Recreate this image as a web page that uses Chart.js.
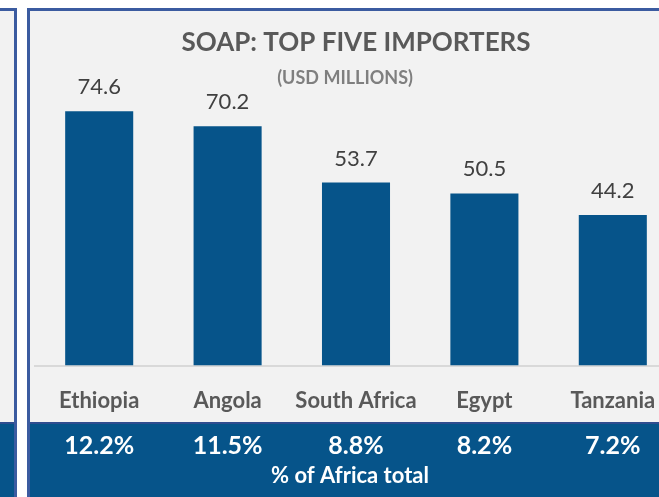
<!DOCTYPE html>
<html>
<head>
<meta charset="utf-8">
<script src="https://cdn.jsdelivr.net/npm/chart.js@4"></script>
<style>
  html, body { margin: 0; padding: 0; background: #fff; overflow: hidden; width: 659px; height: 497px; }
  .panel { position: absolute; background: #f2f2f2; border: 3px solid #3b5ba0; box-sizing: border-box; overflow: hidden; }
  .band { position: absolute; left: 0; right: 0; top: 411px; height: 120px; background: #06548a; border-top: 2px solid #2e4d8f; }
  #mychart { position: absolute; left: 0; top: 0; }
</style>
</head>
<body>
<div class="panel" style="left:-100px; top:8px; width:117px; height:520px;"><div class="band"></div></div>
<div class="panel" style="left:27px; top:8px; width:720px; height:520px;"><div class="band"></div></div>
<canvas id="mychart" width="700" height="497"></canvas>
<script>
// Dữ liệu
const countries = ["Ethiopia", "Angola", "South Africa", "Egypt", "Tanzania"];
const importsUsdM = [74.6, 70.2, 53.7, 50.5, 44.2];
const shareOfAfrica = [12.2, 11.5, 8.8, 8.2, 7.2];

const FONT = "Lato, 'Open Sans', sans-serif";

// Nhãn giá trị trên cột + dải phần trăm bên dưới
const labelsPlugin = {
  id: "labels",
  afterDatasetsDraw(chart) {
    const c = chart.ctx;
    const meta = chart.getDatasetMeta(0);
    const xs = chart.scales.x;
    c.save();
    c.textAlign = "center";
    c.textBaseline = "middle";

    c.fillStyle = "#404040";
    c.font = "22px " + FONT;
    meta.data.forEach((bar, i) => {
      c.fillText(importsUsdM[i].toFixed(1), bar.x, bar.y - 24);
    });

    c.fillStyle = "#ffffff";
    c.font = "bold 25px " + FONT;
    shareOfAfrica.forEach((v, i) => {
      c.fillText(v.toFixed(1) + "%", xs.getPixelForValue(i), 446);
    });

    c.font = "bold 22px " + FONT;
    c.fillText("% of Africa total", 350, 476);
    c.restore();
  },
};

const ctx = document.getElementById("mychart").getContext("2d");
const mychart = new Chart(ctx, {
  type: "bar",
  data: {
    labels: countries,
    datasets: [
      {
        data: importsUsdM,
        backgroundColor: "#06548a",
        categoryPercentage: 1,
        barPercentage: 0.53,
      },
    ],
  },
  options: {
    responsive: false,
    animation: false,
    layout: { padding: { left: 35, right: 23, top: 27, bottom: 69 } },
    plugins: {
      legend: { display: false },
      tooltip: { enabled: false },
      title: {
        display: true,
        text: "SOAP: TOP FIVE IMPORTERS",
        color: "#595959",
        font: { family: FONT, size: 26, weight: "bold" },
        padding: { top: 0, bottom: 9 },
      },
      subtitle: {
        display: true,
        text: "(USD MILLIONS)     ",
        color: "#7f7f7f",
        font: { family: FONT, size: 18, weight: "bold" },
        padding: { top: 0, bottom: 4 },
      },
    },
    scales: {
      x: {
        grid: { display: false },
        border: { display: true, color: "#d9d9d9", width: 2 },
        ticks: {
          color: "#595959",
          padding: 14,
          maxRotation: 0,
          font: { family: FONT, size: 22, weight: "bold" },
        },
      },
      y: {
        display: false,
        min: 0,
        max: 80,
      },
    },
  },
  plugins: [labelsPlugin],
});
</script>
</body>
</html>
